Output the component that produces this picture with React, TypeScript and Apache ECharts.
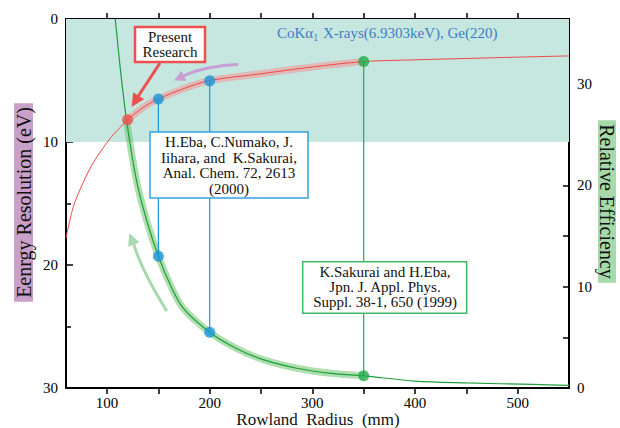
import React, { useEffect, useRef } from "react";
import * as echarts from "echarts";

// Energy resolution (left axis, eV) vs Rowland radius (mm)
const resRadius = [60, 67, 74, 85, 96, 106, 113, 120, 135, 150, 175, 200, 250, 300, 350, 400, 450, 500, 550];
const resValues = [17.8, 15.3, 13.8, 11.9, 10.5, 9.4, 8.8, 8.2, 7.2, 6.5, 5.65, 5.0, 4.45, 3.9, 3.46, 3.32, 3.21, 3.1, 3.0];

// Relative efficiency (right axis) vs Rowland radius (mm)
const effRadius = [108, 113, 119, 129, 139, 150, 161.5, 174, 200, 226, 252, 285, 318, 350, 400, 450, 515, 550];
const effValues = [36.4, 31.4, 26.4, 20.3, 16.4, 13.0, 10.2, 7.9, 5.5, 3.9, 2.8, 1.95, 1.45, 1.2, 0.68, 0.5, 0.35, 0.26];

// Reference designs
const refRadius = [150, 200, 350];
const refRes = [6.5, 5.03, 3.46];
const refEff = [13.0, 5.5, 1.2];
const refColors = ["#1a97d9", "#1a97d9", "#22ac4c"];

const presentRadius = 120;
const presentRes = 8.2;

const xTicks = [100, 150, 200, 250, 300, 350, 400, 450, 500];
const xLabels = [100, 200, 300, 400, 500];
const rightTicks = [0, 5, 10, 15, 20, 25, 30, 35];
const rightLabels = [0, 10, 20, 30];

const X_MIN = 60;
const X_MAX = 550;
const RES_MAX = 30;
const EFF_MAX = 36.4;
const BAND_FROM = 119;
const BAND_TO = 350;

const FONT = "'Liberation Serif', 'Times New Roman', Times, serif";

export default function App() {
  const ref = useRef<HTMLDivElement>(null);

  useEffect(() => {
    if (!ref.current) return;
    const chart = echarts.init(ref.current, null, { renderer: "svg" });

    const resData = resRadius.map((r, i) => [r, resValues[i]]);
    const effData = effRadius.map((r, i) => [r, effValues[i]]);
    const resBand = resData.filter((d) => d[0] >= BAND_FROM && d[0] <= BAND_TO);
    const effBand = effData.filter((d) => d[0] >= BAND_FROM && d[0] <= BAND_TO);

    const arrowHead = (tip: number[], from: number[], len: number, half: number) => {
      const dx = tip[0] - from[0];
      const dy = tip[1] - from[1];
      const l = Math.hypot(dx, dy);
      const ux = dx / l;
      const uy = dy / l;
      const bx = tip[0] - ux * len;
      const by = tip[1] - uy * len;
      return [
        tip,
        [bx - uy * half, by + ux * half],
        [bx + uy * half, by - ux * half],
      ];
    };

    const tickLabel = { color: "#000", fontSize: 15, lineHeight: 15, fontFamily: FONT, fontWeight: "normal" };

    const option: any = {
      animation: false,
      backgroundColor: "#ffffff",
      textStyle: { fontFamily: FONT },
      grid: { left: 66, top: 19, width: 503, height: 369, containLabel: false },
      xAxis: [
        {
          type: "value",
          position: "bottom",
          min: X_MIN,
          max: X_MAX,
          axisLine: { show: true, lineStyle: { color: "#000", width: 2 } },
          axisTick: { show: true, inside: true, length: 6, customValues: xTicks, lineStyle: { color: "#000", width: 1.5 } },
          axisLabel: { ...tickLabel, customValues: xLabels, margin: 7 },
          splitLine: { show: false },
        },
        {
          type: "value",
          position: "top",
          min: X_MIN,
          max: X_MAX,
          axisLine: { show: true, lineStyle: { color: "#000", width: 2 } },
          axisTick: { show: true, inside: true, length: 6, customValues: xTicks, lineStyle: { color: "#000", width: 1.5 } },
          axisLabel: { show: false },
          splitLine: { show: false },
        },
      ],
      yAxis: [
        {
          type: "value",
          position: "left",
          inverse: true,
          min: 0,
          max: RES_MAX,
          interval: 10,
          axisLine: { show: true, lineStyle: { color: "#000", width: 2 } },
          axisTick: { show: true, inside: true, length: 7, lineStyle: { color: "#000", width: 1.5 } },
          minorTick: { show: true, splitNumber: 2, length: 5, lineStyle: { color: "#000", width: 1.5 } },
          axisLabel: { ...tickLabel, margin: 8 },
          splitLine: { show: false },
        },
        {
          type: "value",
          position: "right",
          min: 0,
          max: EFF_MAX,
          interval: 5,
          axisLine: { show: true, lineStyle: { color: "#000", width: 2 } },
          axisTick: { show: true, inside: true, length: 6, customValues: rightTicks, lineStyle: { color: "#000", width: 1.5 } },
          axisLabel: {
            ...tickLabel,
            customValues: rightLabels,
            margin: 8,
            formatter: (v: number) => (v % 10 === 0 ? String(v) : ""),
          },
          splitLine: { show: false },
        },
      ],
      series: [
        {
          name: "resBand",
          type: "line",
          xAxisIndex: 0,
          yAxisIndex: 0,
          data: resBand,
          smooth: 0.3,
          symbol: "none",
          lineStyle: { color: "rgba(245,140,140,0.5)", width: 7 },
          z: 2,
          markArea: {
            silent: true,
            itemStyle: { color: "#c6e6e0" },
            data: [[{ yAxis: 0 }, { yAxis: 10 }]],
          },
        },
        {
          name: "effBand",
          type: "line",
          xAxisIndex: 0,
          yAxisIndex: 1,
          data: effBand,
          smooth: 0.3,
          symbol: "none",
          lineStyle: { color: "rgba(110,195,110,0.55)", width: 7 },
          z: 2,
        },
        {
          name: "Energy Resolution",
          type: "line",
          xAxisIndex: 0,
          yAxisIndex: 0,
          data: resData,
          smooth: 0.3,
          symbol: "none",
          lineStyle: { color: "#f04848", width: 1 },
          z: 3,
        },
        {
          name: "Relative Efficiency",
          type: "line",
          xAxisIndex: 0,
          yAxisIndex: 1,
          data: effData,
          smooth: 0.3,
          symbol: "none",
          lineStyle: { color: "#1e9e3e", width: 1.2 },
          z: 3,
        },
        {
          name: "links",
          type: "custom",
          xAxisIndex: 0,
          yAxisIndex: 0,
          data: refRadius.map((r, i) => [r, refRes[i], refEff[i], i]),
          renderItem: (params: any, api: any) => {
            const p = api.coord([api.value(0), api.value(1)]);
            const cs = params.coordSys;
            const y2 = cs.y + cs.height * (1 - api.value(2) / EFF_MAX);
            const idx = api.value(3);
            return {
              type: "line",
              shape: { x1: p[0], y1: p[1], x2: p[0], y2 },
              style: { stroke: refColors[idx], lineWidth: 1.2 },
            };
          },
          z: 4,
        },
        {
          name: "resPoints",
          type: "scatter",
          xAxisIndex: 0,
          yAxisIndex: 0,
          symbolSize: 11,
          data: [
            { value: [presentRadius, presentRes], itemStyle: { color: "#ee5050" } },
            ...refRadius.map((r, i) => ({ value: [r, refRes[i]], itemStyle: { color: refColors[i] } })),
          ],
          z: 5,
        },
        {
          name: "effPoints",
          type: "scatter",
          xAxisIndex: 0,
          yAxisIndex: 1,
          symbolSize: 11,
          data: refRadius.map((r, i) => ({ value: [r, refEff[i]], itemStyle: { color: refColors[i] } })),
          z: 5,
        },
      ],
      graphic: [
        // Title
        {
          type: "text",
          x: 277,
          y: 33,
          z: 100,
          style: {
            text: "{a|CoKα}{s|1}{a| X-rays(6.9303keV), Ge(220)}",
            verticalAlign: "middle",
            align: "left",
            rich: {
              a: { fontFamily: FONT, fontSize: 15, fill: "#3a7fc6", lineHeight: 18 },
              s: { fontFamily: FONT, fontSize: 10, fill: "#3a7fc6", lineHeight: 18, padding: [9, 1, 0, 0] },
            },
          },
        },
        // Present research box
        {
          type: "rect",
          z: 100,
          shape: { x: 135, y: 27, width: 70, height: 35 },
          style: { fill: "#fff", stroke: "#ee5050", lineWidth: 2.5 },
        },
        {
          type: "text",
          z: 101,
          x: 170,
          y: 44.5,
          style: {
            text: "Present\nResearch",
            fontFamily: FONT,
            fontSize: 15,
            lineHeight: 15,
            fill: "#111",
            align: "center",
            verticalAlign: "middle",
          },
        },
        {
          type: "line",
          z: 100,
          shape: { x1: 160, y1: 63, x2: 137, y2: 98 },
          style: { stroke: "#ee5050", lineWidth: 3 },
        },
        {
          type: "polygon",
          z: 100,
          shape: { points: arrowHead([131.7, 106.7], [160, 62], 13, 6.5) },
          style: { fill: "#ee5050" },
        },
        // Purple arrow
        {
          type: "bezierCurve",
          z: 100,
          shape: { x1: 238, y1: 64.5, cpx1: 220, cpy1: 65, cpx2: 198, cpy2: 69, x2: 184, y2: 75.8 },
          style: { stroke: "#c79fd6", lineWidth: 3, fill: "none" },
        },
        {
          type: "polygon",
          z: 100,
          shape: { points: arrowHead([174, 80.5], [190, 73], 11, 5.5) },
          style: { fill: "#c79fd6" },
        },
        // Green arrow
        {
          type: "bezierCurve",
          z: 100,
          shape: { x1: 166.7, y1: 311, cpx1: 155, cpy1: 292, cpx2: 140, cpy2: 265, x2: 133.8, y2: 244.4 },
          style: { stroke: "#a6d9ae", lineWidth: 3, fill: "none" },
        },
        {
          type: "polygon",
          z: 100,
          shape: { points: arrowHead([129.3, 233.3], [136, 250], 12, 6) },
          style: { fill: "#a6d9ae" },
        },
        // Blue reference box
        {
          type: "rect",
          z: 100,
          shape: { x: 150, y: 132, width: 158, height: 66 },
          style: { fill: "#fff", stroke: "#35a3e0", lineWidth: 1.5 },
        },
        {
          type: "text",
          z: 101,
          x: 229,
          y: 165.5,
          style: {
            text: "H.Eba, C.Numako, J.\nIihara, and  K.Sakurai,\nAnal. Chem. 72, 2613\n(2000)",
            fontFamily: FONT,
            fontSize: 15,
            lineHeight: 15.5,
            fill: "#111",
            align: "center",
            verticalAlign: "middle",
          },
        },
        // Green reference box
        {
          type: "rect",
          z: 100,
          shape: { x: 302.7, y: 261.7, width: 164, height: 51.6 },
          style: { fill: "#fff", stroke: "#3dba6a", lineWidth: 1.5 },
        },
        {
          type: "text",
          z: 101,
          x: 385,
          y: 287,
          style: {
            text: "K.Sakurai and H.Eba,\nJpn. J. Appl. Phys.\nSuppl. 38-1, 650 (1999)",
            fontFamily: FONT,
            fontSize: 15,
            lineHeight: 15.3,
            fill: "#111",
            align: "center",
            verticalAlign: "middle",
          },
        },
        // Axis titles
        {
          type: "text",
          z: 100,
          x: 23.5,
          y: 202.5,
          rotation: Math.PI / 2,
          style: {
            text: "Eenrgy Resolution (eV)",
            fontFamily: FONT,
            fontSize: 20,
            lineHeight: 19,
            fill: "#111",
            align: "center",
            verticalAlign: "middle",
            backgroundColor: "#c8a0c9",
            padding: [0, 4, 0, 4],
          },
        },
        {
          type: "text",
          z: 100,
          x: 607,
          y: 201.5,
          rotation: -Math.PI / 2,
          style: {
            text: "Relative Efficiency",
            fontFamily: FONT,
            fontSize: 20,
            lineHeight: 18,
            fill: "#111",
            align: "center",
            verticalAlign: "middle",
            backgroundColor: "#a8d9aa",
            padding: [0, 4, 0, 4],
          },
        },
        {
          type: "text",
          z: 100,
          x: 318,
          y: 419,
          style: {
            text: "Rowland  Radius  (mm)",
            fontFamily: FONT,
            fontSize: 17,
            lineHeight: 17,
            fill: "#111",
            align: "center",
            verticalAlign: "middle",
          },
        },
      ],
    };

    chart.setOption(option);
    return () => chart.dispose();
  }, []);

  return (
    <div
      ref={ref}
      style={{ position: "fixed", left: 0, top: 0, width: 620, height: 428, background: "#fff" }}
    />
  );
}
